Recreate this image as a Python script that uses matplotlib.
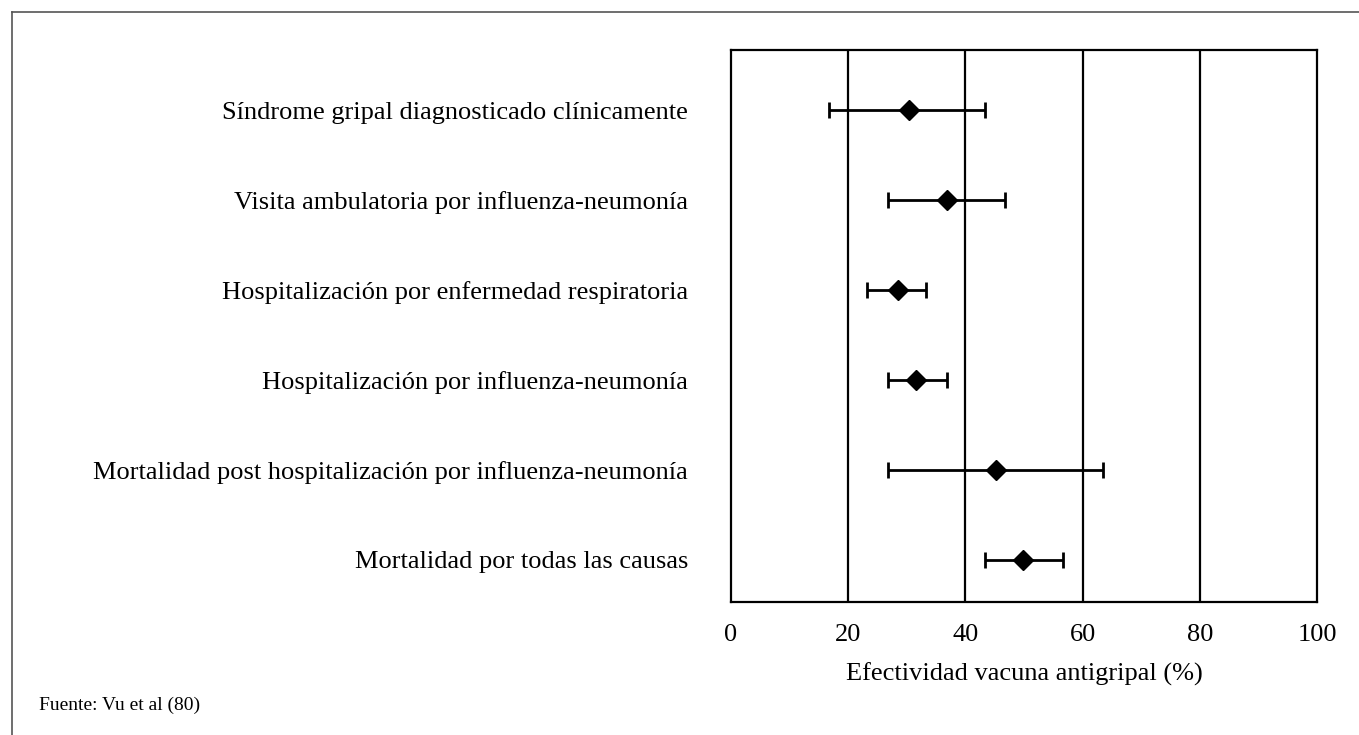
import matplotlib.pyplot as plt

plt.rcParams['font.family'] = ['Liberation Serif', 'DejaVu Serif']

outcomes = [
    'Síndrome gripal diagnosticado clínicamente',
    'Visita ambulatoria por influenza-neumonía',
    'Hospitalización por enfermedad respiratoria',
    'Hospitalización por influenza-neumonía',
    'Mortalidad post hospitalización por influenza-neumonía',
    'Mortalidad por todas las causas',
]
effect = [30.3, 36.8, 28.5, 31.6, 45.2, 49.9]
ci_low = [16.7, 26.8, 23.2, 26.8, 26.8, 43.4]
ci_high = [43.4, 46.8, 33.3, 36.9, 63.5, 56.6]
xticks = [0, 20, 40, 60, 80, 100]

fig = plt.figure(figsize=(13.59, 7.35), dpi=100)
ax = fig.add_axes([0.5379, 0.1810, 0.4312, 0.7510])

ypos = list(range(len(outcomes)))
err = [[e - lo for e, lo in zip(effect, ci_low)],
       [hi - e for e, hi in zip(effect, ci_high)]]
ax.errorbar(effect, ypos, xerr=err, fmt='D', color='black', ms=10,
            elinewidth=2, capsize=6, capthick=2, zorder=3)

for x in xticks[1:-1]:
    ax.axvline(x, color='black', lw=1.6, zorder=1)

ax.set_xlim(0, 100)
ax.set_ylim(5.47, -0.67)
ax.set_xticks(xticks)
ax.set_yticks(ypos)
ax.set_yticklabels(outcomes)
ax.tick_params(axis='y', length=0, pad=31, labelsize=19)
ax.tick_params(axis='x', length=0, pad=16, labelsize=19)
for s in ax.spines.values():
    s.set_linewidth(1.6)
ax.set_xlabel('Efectividad vacuna antigripal (%)', fontsize=19, labelpad=12)

# outer frame and source note
fig.add_artist(plt.Line2D([0.009, 1.0], [0.984, 0.984], color='#555555', lw=1.2))
fig.add_artist(plt.Line2D([0.009, 0.009], [0.0, 0.984], color='#555555', lw=1.2))
fig.text(0.029, 0.034, 'Fuente: Vu et al (80)', fontsize=14, ha='left', va='baseline')

fig.savefig('out.png', dpi=100)
